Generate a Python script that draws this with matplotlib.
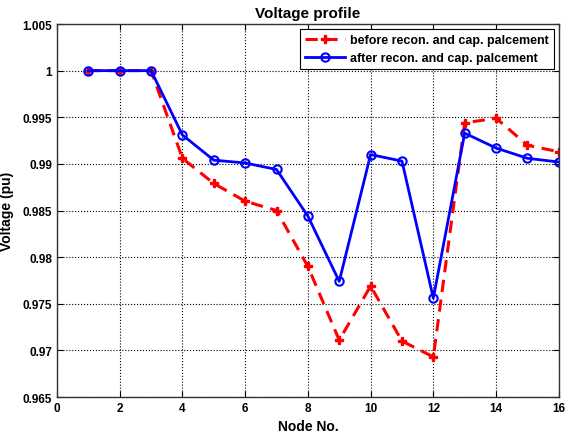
import numpy as np
import matplotlib
matplotlib.use('Agg')
import matplotlib.pyplot as plt

plt.rcParams['font.family'] = ['Liberation Sans', 'DejaVu Sans']
plt.rcParams['font.weight'] = 'bold'

# data
nodes = list(range(1, 17))
v_before = [1.0, 1.0, 1.0, 0.9906, 0.9879, 0.9860, 0.9850, 0.9790,
            0.9711, 0.9769, 0.9710, 0.9693, 0.9944, 0.9949, 0.9920, 0.9913]
v_after = [1.0, 1.0, 1.0, 0.9931, 0.9904, 0.9901, 0.9894, 0.9844,
           0.9774, 0.9910, 0.9903, 0.9756, 0.9933, 0.9917, 0.9906, 0.9902]
x_ticks = [0, 2, 4, 6, 8, 10, 12, 14, 16]
y_ticks = [0.965, 0.97, 0.975, 0.98, 0.985, 0.99, 0.995, 1.0, 1.005]
y_labels = ['0.965', '0.97', '0.975', '0.98', '0.985', '0.99', '0.995', '1', '1.005']

fig = plt.figure(figsize=(5.67, 4.35), dpi=100)
ax = fig.add_axes([0.1005, 0.085, 0.885, 0.8575])

ax.plot(nodes, v_before, color='red', linestyle='--', linewidth=2.2, dashes=(4, 2.5),
        marker='P', markersize=6, label='before recon. and cap. palcement')
ax.plot(nodes, v_after, color='blue', linestyle='-', linewidth=2.0,
        marker='o', markersize=6, markerfacecolor='none', markeredgewidth=1.5,
        label='after recon. and cap. palcement')

ax.set_xlim(0, 16)
ax.set_ylim(0.965, 1.005)
ax.set_xticks(x_ticks)
ax.set_yticks(y_ticks)
ax.set_yticklabels(y_labels)
ax.tick_params(direction='in', top=True, right=True, labelsize=8.5, length=4)
ax.grid(True, color='black', linestyle=':', linewidth=0.8)
for s in ax.spines.values():
    s.set_linewidth(1.0)
    s.set_color('#333333')

ax.set_title('Voltage profile', fontsize=11, fontweight='bold', pad=5)
ax.set_xlabel('Node No.', fontsize=10, fontweight='bold', labelpad=4)
ax.set_ylabel('Voltage (pu)', fontsize=10, fontweight='bold', labelpad=6)

leg = ax.legend(loc='upper right', fontsize=9, fancybox=False, framealpha=1,
                edgecolor='black', borderaxespad=0.4, handlelength=3.2,
                handletextpad=0.4, labelspacing=0.5, borderpad=0.4)
leg.get_frame().set_linewidth(0.8)

fig.savefig('out.png', dpi=100)
